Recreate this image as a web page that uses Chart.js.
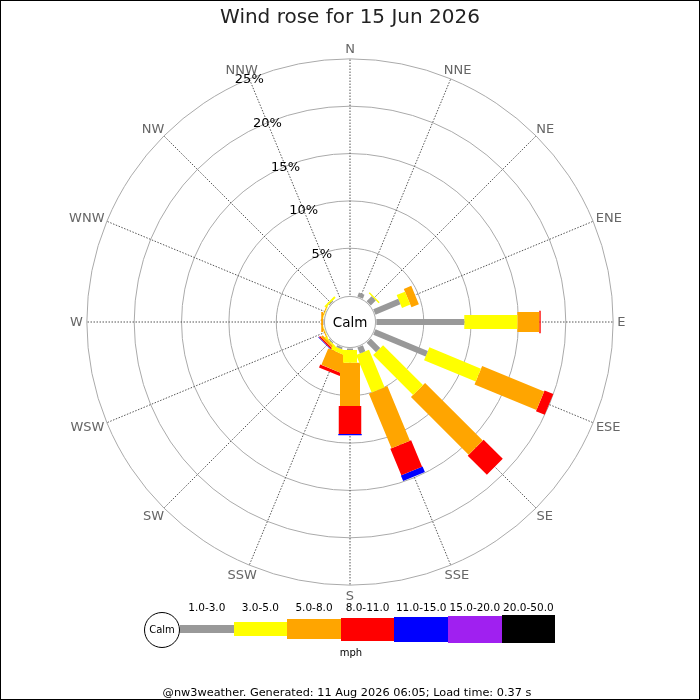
<!DOCTYPE html>
<html>
<head>
<meta charset="utf-8">
<title>Wind rose</title>
<script src="https://cdn.jsdelivr.net/npm/chart.js@4/dist/chart.umd.min.js"></script>
<style>
  body { margin: 0; background: #fff; font-family: "DejaVu Sans", sans-serif; }
  #wrap { position: relative; width: 700px; height: 700px; overflow: hidden; }
  #rose { position: absolute; left: 0; top: 0; }
  .title { position: absolute; left: 0; top: 6px; width: 700px; text-align: center;
           font-size: 20px; line-height: 20px; color: #222; }
  .footer { position: absolute; left: 0; top: 686px; width: 694px; text-align: center;
            font-size: 11.3px; line-height: 14px; color: #000; }
  .frame { position: absolute; left: 0; top: 0; width: 700px; height: 700px;
           box-sizing: border-box; border: 1px solid #000; pointer-events: none; }
  .lg-box { position: absolute; }
  .lg-label { position: absolute; width: 60px; text-align: center; font-size: 10.5px;
              line-height: 12px; color: #000; }
  .lg-calm { position: absolute; left: 144px; top: 612px; width: 36px; height: 36px;
             box-sizing: border-box; border: 1px solid #000; border-radius: 50%; background: #fff;
             font-size: 10px; line-height: 34px; text-align: center; }
  .lg-unit { position: absolute; left: 321px; top: 647px; width: 60px; text-align: center;
             font-size: 10px; line-height: 12px; }
</style>
</head>
<body>
<div id="wrap">
  <canvas id="rose" width="700" height="700"></canvas>
  <div class="title">Wind rose for 15 Jun 2026</div>
  <div id="legend"></div>
  <div class="footer">@nw3weather. Generated: 11 Aug 2026 06:05; Load time: 0.37 s</div>
  <div class="frame"></div>
</div>
<script>
// compass points, clockwise from north
const directions = ["N", "NNE", "NE", "ENE", "E", "ESE", "SE", "SSE",
                    "S", "SSW", "SW", "WSW", "W", "WNW", "NW", "NNW"];

// speed bins (mph)
const speedBins = ["1.0-3.0", "3.0-5.0", "5.0-8.0", "8.0-11.0", "11.0-15.0", "15.0-20.0", "20.0-50.0"];

// frequency (% of the day) per direction for each speed bin
const freq1to3   = [0, 0.45, 0.75, 2.85, 9.28, 5.98, 1.41, 0.68, 0.17, 0.2, 0.1, 0, 0.05, 0, 0.1, 0];
const freq3to5   = [0, 0, 0.15, 0.95, 5.6, 5.9, 5.96, 4.29, 1.34, 0.47, 0.15, 0.05, 0, 0.05, 0.2, 0];
const freq5to8   = [0, 0, 0, 0.85, 2.32, 7.08, 8.61, 6.24, 4.57, 1.88, 0.25, 0.1, 0.2, 0.1, 0, 0];
const freq8to11  = [0, 0, 0, 0, 0.15, 1.0, 2.86, 3.03, 2.96, 0.35, 0.15, 0, 0, 0, 0, 0];
const freq11to15 = [0, 0, 0, 0, 0, 0, 0, 0.64, 0.12, 0, 0.07, 0, 0, 0, 0, 0];
const freq15to20 = [0, 0, 0, 0, 0, 0, 0, 0, 0, 0, 0, 0, 0, 0, 0, 0];
const freq20to50 = [0, 0, 0, 0, 0, 0, 0, 0, 0, 0, 0, 0, 0, 0, 0, 0];

// percentage rings
const ringValues = [5, 10, 15, 20, 25];
const ringLabels = ["5%", "10%", "15%", "20%", "25%"];

const binFreqs = [freq1to3, freq3to5, freq5to8, freq8to11, freq11to15, freq15to20, freq20to50];
const binColours = ["#999999", "#ffff00", "#ffa500", "#ff0000", "#0000ff", "#a020f0", "#000000"];
const barWidths = [6, 14, 20, 22.5, 23.5, 25, 27];       // px on the rose
const legendHeights = [8.6, 14.3, 20.6, 23, 25, 27, 28.6]; // px in the key

const PX_PER_PCT = 9.47;          // 5% ring spacing is ~47px
const CALM = 26.4 / PX_PER_PCT;   // bars start at the edge of the calm circle
const CX = 350, CY = 322;         // rose centre on the page

const toRad = deg => deg * Math.PI / 180;

// one line dataset per speed bin, each bar piece is 2 points, split by nulls
const datasets = binFreqs.map((freqs, b) => {
  const pts = [];
  directions.forEach((dir, i) => {
    const v = freqs[i];
    if (!v) return;
    let start = CALM;
    for (let k = 0; k < b; k++) start += binFreqs[k][i];
    const end = start + v;
    const a = toRad(i * 22.5);
    pts.push({ x: start * Math.sin(a), y: start * Math.cos(a) });
    pts.push({ x: end * Math.sin(a), y: end * Math.cos(a) });
    pts.push({ x: null, y: null });
  });
  return {
    label: speedBins[b],
    data: pts,
    showLine: true,
    spanGaps: false,
    borderColor: binColours[b],
    borderWidth: barWidths[b],
    borderCapStyle: "butt",
    borderDash: [5000, 0], // solid, but keeps Chart.js off its fast path (it merges same-x points)
    pointRadius: 0,
    pointHoverRadius: 0,
  };
});

const roseGrid = {
  id: "roseGrid",
  beforeDatasetsDraw(chart) {
    const { ctx, scales: { x, y } } = chart;
    const cx = x.getPixelForValue(0), cy = y.getPixelForValue(0);
    const rPx = v => x.getPixelForValue(v) - cx;
    ctx.save();
    // rings
    ctx.strokeStyle = "#aaaaaa";
    ctx.lineWidth = 1;
    ringValues.forEach(v => {
      ctx.beginPath();
      ctx.arc(cx, cy, rPx(CALM + v), 0, Math.PI * 2);
      ctx.stroke();
    });
    // spokes
    const outer = rPx(CALM + ringValues[ringValues.length - 1]);
    ctx.strokeStyle = "#555555";
    ctx.setLineDash([1.5, 1.5]);
    directions.forEach((d, i) => {
      const a = toRad(i * 22.5);
      ctx.beginPath();
      ctx.moveTo(cx, cy);
      ctx.lineTo(cx + outer * Math.sin(a), cy - outer * Math.cos(a));
      ctx.stroke();
    });
    ctx.restore();
  },
  afterDatasetsDraw(chart) {
    const { ctx, scales: { x, y } } = chart;
    const cx = x.getPixelForValue(0), cy = y.getPixelForValue(0);
    const rPx = v => x.getPixelForValue(v) - cx;
    ctx.save();
    // calm circle
    ctx.beginPath();
    ctx.arc(cx, cy, rPx(CALM) - 0.8, 0, Math.PI * 2);
    ctx.fillStyle = "#ffffff";
    ctx.fill();
    ctx.strokeStyle = "#aaaaaa";
    ctx.lineWidth = 1;
    ctx.stroke();
    ctx.fillStyle = "#000000";
    ctx.font = '13.5px "DejaVu Sans"';
    ctx.textAlign = "center";
    ctx.textBaseline = "middle";
    ctx.fillText("Calm", cx, cy + 1);

    // compass labels
    const outer = rPx(CALM + ringValues[ringValues.length - 1]) + 4;
    ctx.font = '13px "DejaVu Sans"';
    ctx.fillStyle = "#666666";
    directions.forEach((d, i) => {
      const a = toRad(i * 22.5);
      const w = ctx.measureText(d).width;
      const px = cx + outer * Math.sin(a) + Math.sin(a) * w / 2;
      const py = cy - outer * Math.cos(a) - Math.cos(a) * 6.5;
      ctx.fillText(d, px, py + 1);
    });

    // ring labels along NNW
    const la = toRad(337.5);
    ctx.fillStyle = "#000000";
    ringValues.forEach((v, k) => {
      const r = rPx(CALM + v);
      ctx.fillText(ringLabels[k], cx + r * Math.sin(la), cy - r * Math.cos(la) + 1);
    });
    ctx.restore();
  },
};

new Chart(document.getElementById("rose"), {
  type: "scatter",
  data: { datasets: datasets },
  options: {
    responsive: false,
    animation: false,
    events: [],
    layout: { padding: 0 },
    plugins: {
      legend: { display: false },
      tooltip: { enabled: false },
      title: { display: false },
    },
    scales: {
      x: { type: "linear", display: false, min: -CX / PX_PER_PCT, max: (700 - CX) / PX_PER_PCT },
      y: { type: "linear", display: false, min: -(700 - CY) / PX_PER_PCT, max: CY / PX_PER_PCT },
    },
  },
  plugins: [roseGrid],
});

// key
const legend = document.getElementById("legend");
const calm = document.createElement("div");
calm.className = "lg-calm";
calm.textContent = "Calm";
legend.appendChild(calm);
const segW = 53.6;
speedBins.forEach((bin, i) => {
  const box = document.createElement("div");
  box.className = "lg-box";
  const left = 180 + i * segW;
  box.style.left = left + "px";
  box.style.width = segW + "px";
  box.style.top = (629 - legendHeights[i] / 2) + "px";
  box.style.height = legendHeights[i] + "px";
  box.style.background = binColours[i];
  legend.appendChild(box);
  const lab = document.createElement("div");
  lab.className = "lg-label";
  lab.style.left = (left + segW / 2 - 30) + "px";
  lab.style.top = "601px";
  lab.textContent = bin;
  legend.appendChild(lab);
});
const unit = document.createElement("div");
unit.className = "lg-unit";
unit.textContent = "mph";
legend.appendChild(unit);
</script>
</body>
</html>
